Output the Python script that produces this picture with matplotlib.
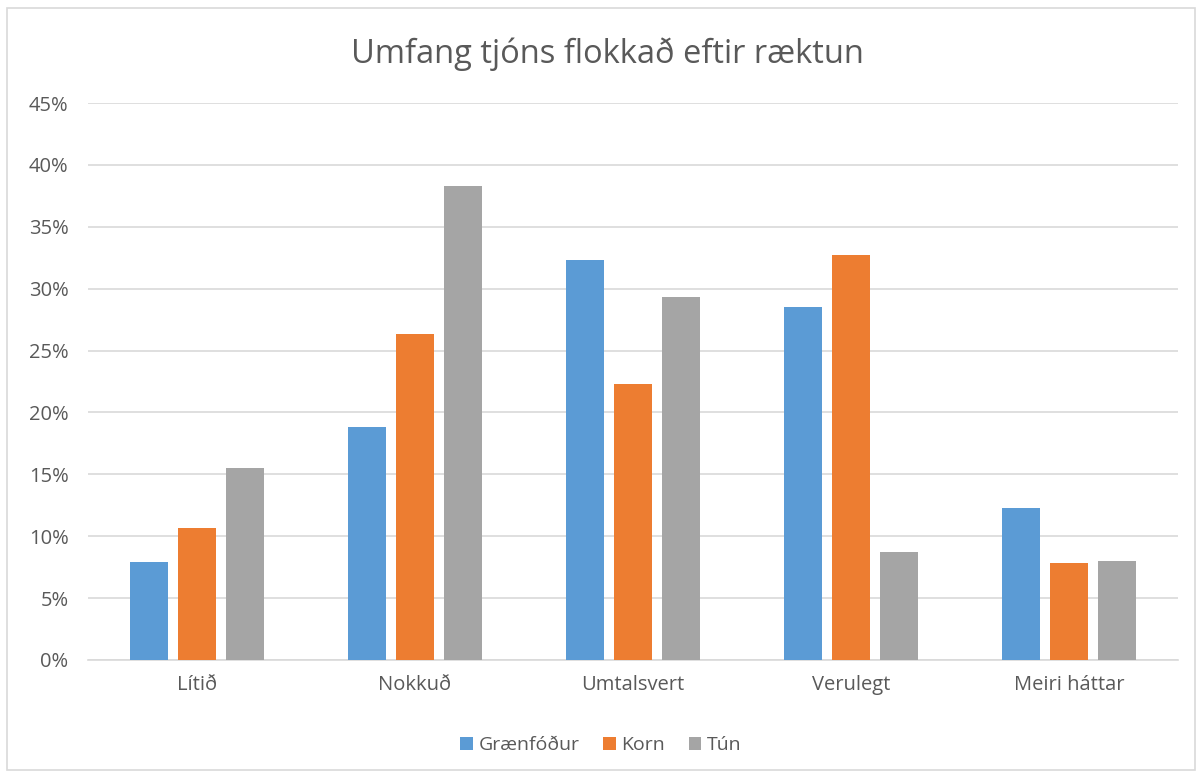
import numpy as np
import matplotlib.pyplot as plt
from matplotlib.patches import Rectangle
from matplotlib.ticker import FuncFormatter

plt.rcParams['font.family'] = ['Open Sans', 'DejaVu Sans']

flokkar = ["Lítið", "Nokkuð", "Umtalsvert", "Verulegt", "Meiri háttar"]
graenfodur = [7.9, 18.8, 32.3, 28.5, 12.3]
korn = [10.7, 26.3, 22.3, 32.7, 7.8]
tun = [15.5, 38.3, 29.3, 8.7, 8.0]

radir = ["Grænfóður", "Korn", "Tún"]
litir = ["#5b9bd5", "#ed7d31", "#a5a5a5"]

fig = plt.figure(figsize=(12.02, 7.78), dpi=100)
ax = fig.add_axes([0.0732, 0.1517, 0.9068, 0.7159])

x = np.arange(len(flokkar))
breidd = 0.174
skref = 0.22
for k, (gildi, nafn, litur) in enumerate(zip([graenfodur, korn, tun], radir, litir)):
    ax.bar(x + (k - 1) * skref, np.array(gildi) / 100, breidd, color=litur,
           label=nafn, zorder=3)

ax.set_xlim(-0.5, len(flokkar) - 0.5)
ax.set_ylim(0, 0.45)
ax.set_yticks(np.arange(0, 0.451, 0.05))
ax.yaxis.set_major_formatter(FuncFormatter(lambda v, p: f"{round(v * 100)}%"))
ax.set_xticks(x)
ax.set_xticklabels(flokkar)
ax.grid(axis='y', color='#d9d9d9', linewidth=1.2, zorder=0)
for s in ['top', 'right', 'left']:
    ax.spines[s].set_visible(False)
ax.spines['bottom'].set_color('#d9d9d9')
ax.spines['bottom'].set_linewidth(1.2)
ax.tick_params(axis='both', length=0, labelsize=14.5, colors='#595959')
ax.tick_params(axis='y', pad=14)
ax.tick_params(axis='x', pad=11)

fig.text(0.505, 0.93, "Umfang tjóns flokkað eftir ræktun", ha='center', va='center',
         fontsize=23.5, color='#595959')

fig.legend(loc='center', bbox_to_anchor=(0.5, 0.042), ncol=3, frameon=False,
           fontsize=14, handlelength=0.65, handleheight=0.65, handletextpad=0.3,
           columnspacing=1.2, labelcolor='#595959')

fig.patches.append(Rectangle((0.006, 0.01), 0.988, 0.98, transform=fig.transFigure,
                             fill=False, edgecolor='#d9d9d9', linewidth=1.2))

fig.savefig("out.png", dpi=100)
